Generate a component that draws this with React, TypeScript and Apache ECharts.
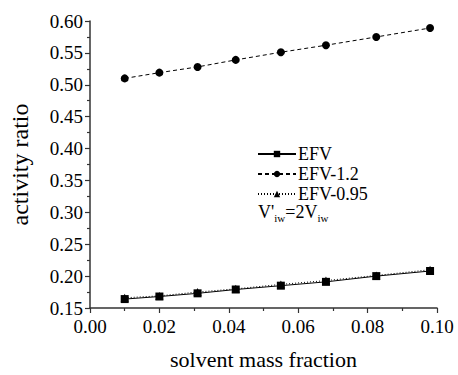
import React, { useEffect, useRef } from "react";
import * as echarts from "echarts";

const xValues = [0.01, 0.02, 0.031, 0.042, 0.055, 0.068, 0.0825, 0.098];
const efv = [0.164, 0.168, 0.173, 0.179, 0.185, 0.191, 0.2, 0.208];
const efv12 = [0.51, 0.519, 0.528, 0.539, 0.551, 0.562, 0.575, 0.589];
const efv095 = [0.166, 0.169, 0.175, 0.18, 0.187, 0.193, 0.201, 0.21];
const seriesNames = ["EFV", "EFV-1.2", "EFV-0.95"];

const FONT = "Liberation Serif";

export default function App() {
  const ref = useRef<HTMLDivElement>(null);
  useEffect(() => {
    if (!ref.current) return;
    const chart = echarts.init(ref.current, null, { renderer: "svg" });
    const pair = (ys: number[]) => xValues.map((x, i) => [x, ys[i]]);
    const base = {
      type: "line",
      color: "#000",
      symbolSize: 8,
      lineStyle: { width: 1, color: "#000" },
      itemStyle: { color: "#000" },
    };
    chart.setOption({
      animation: false,
      textStyle: { fontFamily: FONT },
      grid: { left: 80, right: 21, top: 21, bottom: 59 },
      xAxis: {
        type: "value",
        min: 0,
        max: 0.1,
        interval: 0.02,
        name: "solvent mass fraction",
        nameLocation: "middle",
        nameGap: 40,
        nameTextStyle: { fontSize: 22, color: "#000", fontFamily: FONT },
        axisLine: { lineStyle: { color: "#333", width: 1.5 } },
        axisTick: { length: 5, lineStyle: { color: "#333", width: 1.2 } },
        minorTick: { show: true, splitNumber: 2, length: 3, lineStyle: { color: "#333", width: 1.2 } },
        axisLabel: { fontSize: 19, color: "#000", fontFamily: FONT, margin: 9, formatter: (v: number) => v.toFixed(2) },
        splitLine: { show: false },
      },
      yAxis: {
        type: "value",
        min: 0.15,
        max: 0.6,
        interval: 0.05,
        name: "activity ratio",
        nameLocation: "middle",
        nameGap: 58,
        nameTextStyle: { fontSize: 24, color: "#000", fontFamily: FONT },
        axisLine: { show: true, lineStyle: { color: "#333", width: 1.5 } },
        axisTick: { show: true, length: 5, lineStyle: { color: "#333", width: 1.2 } },
        minorTick: { show: true, splitNumber: 2, length: 3, lineStyle: { color: "#333", width: 1.2 } },
        axisLabel: { fontSize: 19, color: "#000", fontFamily: FONT, margin: 7, formatter: (v: number) => v.toFixed(2) },
        splitLine: { show: false },
      },
      legend: {
        orient: "vertical",
        left: 252,
        top: 140,
        itemWidth: 38,
        itemHeight: 8,
        itemGap: 2,
        textStyle: { fontSize: 18, lineHeight: 18, color: "#000", fontFamily: FONT, padding: [0, 0, 0, -3] },
        data: seriesNames,
      },
      graphic: [
        {
          type: "text",
          left: 258,
          top: 203,
          style: {
            text: "{m|V'}{s|iw}{m|=2V}{s|iw}",
            rich: {
              m: { fontSize: 18, fontFamily: FONT, fill: "#000", lineHeight: 20, verticalAlign: "top" },
              s: { fontSize: 11, fontFamily: FONT, fill: "#000", lineHeight: 11, verticalAlign: "bottom" },
            },
          },
        },
      ],
      series: [
        { ...base, name: seriesNames[0], symbol: "rect", data: pair(efv), lineStyle: { width: 1, color: "#000", type: "solid" }, z: 2 },
        { ...base, name: seriesNames[1], symbol: "circle", data: pair(efv12), lineStyle: { width: 1, color: "#000", type: [4, 3] } },
        { ...base, name: seriesNames[2], symbol: "triangle", data: pair(efv095), lineStyle: { width: 1, color: "#000", type: [1, 2] }, z: 3 },
      ],
    });
    return () => chart.dispose();
  }, []);
  return <div ref={ref} style={{ width: 458, height: 375, position: "absolute", left: 0, top: 0 }} />;
}
